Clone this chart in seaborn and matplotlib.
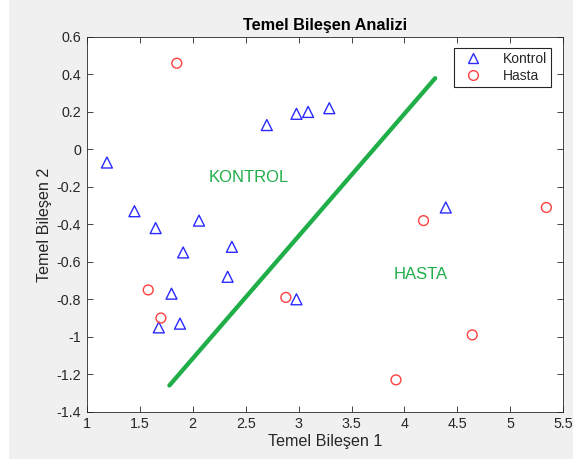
import numpy as np
import pandas as pd
import matplotlib
matplotlib.use("Agg")
import matplotlib.pyplot as plt
from matplotlib.lines import Line2D
import seaborn as sns

# Principal component scores, control group
kontrol_pc1 = [1.19, 1.45, 1.65, 2.06, 2.70, 2.98, 3.09, 3.29, 1.91, 2.37,
               2.33, 1.80, 2.98, 1.88, 1.68, 4.39]
kontrol_pc2 = [-0.07, -0.33, -0.42, -0.38, 0.13, 0.19, 0.20, 0.22, -0.55, -0.52,
               -0.68, -0.77, -0.80, -0.93, -0.95, -0.31]

# Principal component scores, patient group
hasta_pc1 = [1.85, 1.58, 1.70, 2.88, 4.18, 5.34, 4.64, 3.92]
hasta_pc2 = [0.46, -0.75, -0.90, -0.79, -0.38, -0.31, -0.99, -1.23]

# Separating line end points
sinir_pc1 = [1.78, 4.29]
sinir_pc2 = [-1.26, 0.38]

x_ticks = [1, 1.5, 2, 2.5, 3, 3.5, 4, 4.5, 5, 5.5]
x_tick_labels = ["1", "1.5", "2", "2.5", "3", "3.5", "4", "4.5", "5", "5.5"]
y_ticks = [0.6, 0.4, 0.2, 0, -0.2, -0.4, -0.6, -0.8, -1, -1.2, -1.4]
y_tick_labels = ["0.6", "0.4", "0.2", "0", "-0.2", "-0.4", "-0.6", "-0.8", "-1", "-1.2", "-1.4"]

sns.set_theme(style="white")
plt.rcParams["font.family"] = ["Liberation Sans", "DejaVu Sans"]

axis_col = "#262626"
blue = "#2a2aff"
red = "#ff4040"
green = "#1fae48"

fig = plt.figure(figsize=(5.73, 4.59), dpi=100, facecolor="#f0f0f0")
fig.patches.append(plt.Rectangle((0, 0), 9 / 573, 1, transform=fig.transFigure,
                                 facecolor="white", edgecolor="none", zorder=-1))
ax = fig.add_axes([86.8 / 573, 47.3 / 459, 476.5 / 573, 374.7 / 459])
ax.set_facecolor("white")

df_k = pd.DataFrame({"pc1": kontrol_pc1, "pc2": kontrol_pc2})
df_h = pd.DataFrame({"pc1": hasta_pc1, "pc2": hasta_pc2})
df_s = pd.DataFrame({"pc1": sinir_pc1, "pc2": sinir_pc2})

sns.lineplot(data=df_s, x="pc1", y="pc2", ax=ax, color=green, linewidth=3.1,
             solid_capstyle="round", sort=False, zorder=2)
sns.scatterplot(data=df_k, x="pc1", y="pc2", ax=ax, marker="^", s=62,
                facecolor="none", edgecolor=blue, linewidth=1.0, zorder=3)
sns.scatterplot(data=df_h, x="pc1", y="pc2", ax=ax, marker="o", s=50,
                facecolor="none", edgecolor=red, linewidth=1.0, zorder=3)

ax.text(2.15, -0.15, "KONTROL", color=green, fontsize=12, ha="left", va="center")
ax.text(3.9, -0.67, "HASTA", color=green, fontsize=12, ha="left", va="center")

ax.set_xlim(1, 5.5)
ax.set_ylim(-1.4, 0.6)
ax.set_xticks(x_ticks)
ax.set_xticklabels(x_tick_labels)
ax.set_yticks(y_ticks)
ax.set_yticklabels(y_tick_labels)
ax.tick_params(direction="in", length=4.5, width=0.6, color=axis_col,
               labelsize=10.3, labelcolor=axis_col, top=True, right=True,
               bottom=True, left=True, pad=4)
for sp in ax.spines.values():
    sp.set_color(axis_col)
    sp.set_linewidth(0.6)
    sp.set_visible(True)

ax.set_xlabel("Temel Bileşen 1", fontsize=11.6, color=axis_col, labelpad=2)
ax.set_ylabel("Temel Bileşen 2", fontsize=11.6, color=axis_col, labelpad=3)
ax.set_title("Temel Bileşen Analizi", fontsize=11.7, fontweight="bold",
             color="black", pad=5)

handles = [
    Line2D([], [], marker="^", linestyle="none", markersize=7.5,
           markerfacecolor="none", markeredgecolor=blue, markeredgewidth=1.0),
    Line2D([], [], marker="o", linestyle="none", markersize=7,
           markerfacecolor="none", markeredgecolor=red, markeredgewidth=1.0),
]
leg = ax.legend(handles, ["Kontrol", "Hasta"], loc="upper right",
                bbox_to_anchor=(0.974, 0.970), borderaxespad=0, fontsize=10,
                frameon=True, fancybox=False, framealpha=1, edgecolor=axis_col,
                handlelength=2.3, handletextpad=1.0, borderpad=0.25,
                labelspacing=0.25)
leg.get_frame().set_linewidth(0.8)

fig.savefig("out.png", dpi=100, facecolor=fig.get_facecolor())
